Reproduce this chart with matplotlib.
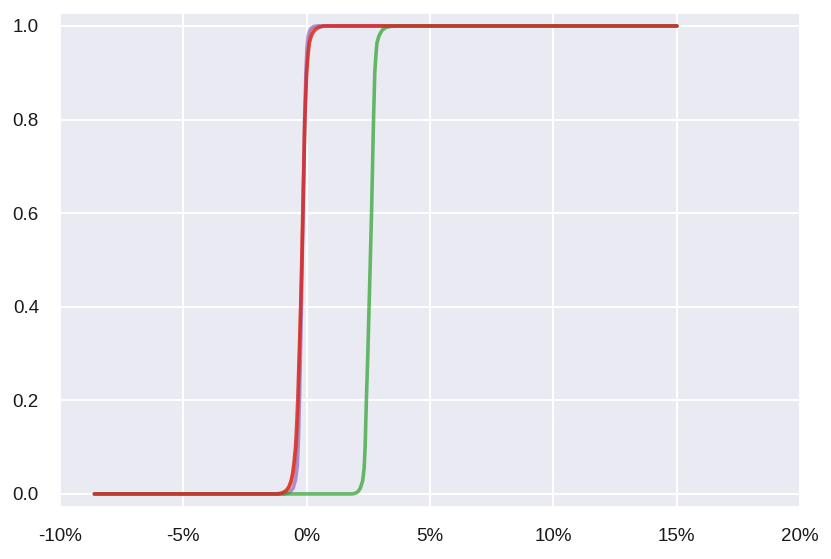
import matplotlib
matplotlib.use("Agg")
from matplotlib import pyplot as plt
from matplotlib.ticker import FuncFormatter
import seaborn as sns

# cumulative share of outcomes by return (%)
orange_x = [-8.6, -1.1, -0.9, -0.75, -0.62, -0.52, -0.45, -0.38, -0.32, -0.24, -0.16, -0.08, -0.01, 0.05, 0.12, 0.2, 0.3, 0.45, 0.6, 15.0]
orange_y = [0.0, 0.0, 0.003, 0.01, 0.025, 0.05, 0.08, 0.13, 0.2, 0.4, 0.6, 0.8, 0.9, 0.95, 0.975, 0.988, 0.995, 0.999, 1.0, 1.0]

purple_x = [-8.6, -0.9, -0.7, -0.55, -0.45, -0.38, -0.33, -0.29, -0.23, -0.18, -0.13, -0.08, -0.03, 0.01, 0.06, 0.12, 0.2, 0.3, 0.45, 15.0]
purple_y = [0.0, 0.0, 0.003, 0.012, 0.03, 0.06, 0.12, 0.2, 0.35, 0.5, 0.65, 0.8, 0.9, 0.95, 0.978, 0.99, 0.996, 0.999, 1.0, 1.0]

green_x = [-8.6, 1.85, 2.0, 2.1, 2.18, 2.27, 2.33, 2.37, 2.42, 2.48, 2.53, 2.58, 2.63, 2.71, 2.76, 2.81, 2.85, 2.92, 2.99, 3.08, 3.22, 3.4, 3.6, 15.0]
green_y = [0.0, 0.0, 0.002, 0.006, 0.013, 0.028, 0.055, 0.1, 0.2, 0.3, 0.4, 0.5, 0.6, 0.8, 0.9, 0.94, 0.964, 0.977, 0.985, 0.992, 0.997, 0.999, 1.0, 1.0]

red_x = [-8.6, -1.2, -1.0, -0.83, -0.72, -0.63, -0.57, -0.52, -0.45, -0.4, -0.36, -0.3, -0.24, -0.19, -0.15, -0.07, 0.0, 0.06, 0.11, 0.18, 0.25, 0.35, 0.5, 0.7, 15.0]
red_y = [0.0, 0.0, 0.002, 0.007, 0.015, 0.028, 0.043, 0.063, 0.1, 0.15, 0.2, 0.3, 0.4, 0.5, 0.6, 0.8, 0.9, 0.94, 0.964, 0.977, 0.985, 0.992, 0.997, 1.0, 1.0]

sns.set_theme(style="darkgrid")
plt.rcParams['font.family'] = ['Liberation Sans', 'DejaVu Sans']

fig, ax = plt.subplots(figsize=(8.31, 5.59), dpi=100)
fig.subplots_adjust(left=0.072, right=0.963, top=0.977, bottom=0.093)

ax.plot(orange_x, orange_y, c="tab:orange", lw=2.6, alpha=0.7)
ax.plot(purple_x, purple_y, c="tab:purple", lw=2.6, alpha=0.7)
ax.plot(green_x, green_y, c="tab:green", lw=2.6, alpha=0.7)
ax.plot(red_x, red_y, c="tab:red", lw=2.6, alpha=0.8)

ax.set_xlim(-10, 20)
ax.set_ylim(-0.028, 1.028)
ax.set_xticks([-10, -5, 0, 5, 10, 15, 20])
ax.xaxis.set_major_formatter(FuncFormatter(lambda v, p: "{:d}%".format(int(round(v)))))
ax.tick_params(axis="both", labelsize=13.5, length=0, labelcolor="#1a1a1a")
ax.tick_params(axis="x", pad=15)
ax.tick_params(axis="y", pad=15)
ax.grid(True, color="white", linewidth=1.4)

fig.savefig("out.png", dpi=100)
